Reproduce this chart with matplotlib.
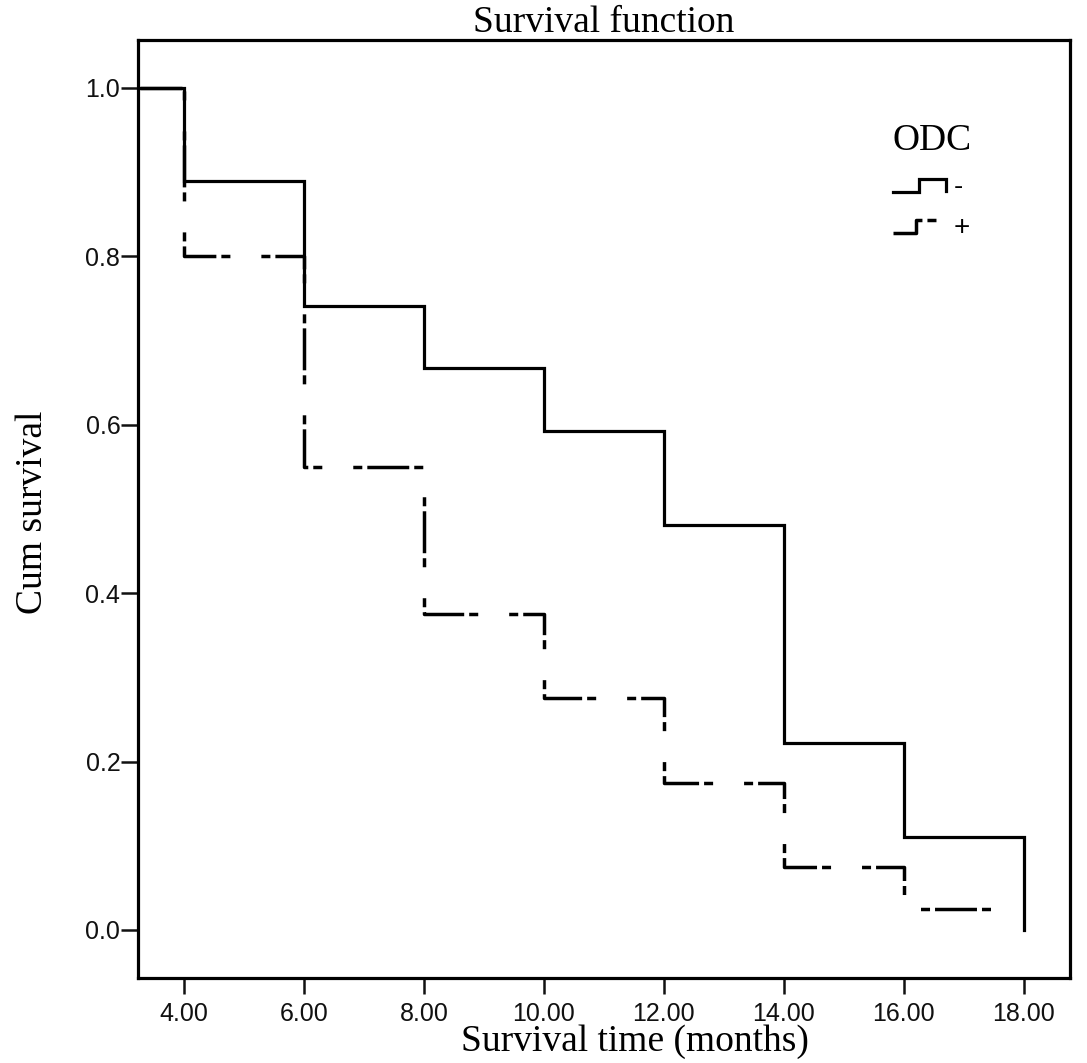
import matplotlib
matplotlib.use("Agg")
import matplotlib.pyplot as plt
import numpy as np
from matplotlib.lines import Line2D
from matplotlib.legend_handler import HandlerBase

# Kaplan-Meier steps (months, cumulative survival)
time_neg = [0, 4, 6, 8, 10, 12, 14, 16, 18]
surv_neg = [1.0, 0.889, 0.741, 0.667, 0.593, 0.481, 0.222, 0.111, 0.0]

time_pos = [0, 4, 6, 8, 10, 12, 14, 16, 17.5]
surv_pos = [1.0, 0.80, 0.55, 0.375, 0.275, 0.175, 0.075, 0.025, 0.025]

group_labels = ["-", "+"]
legend_title = "ODC"

x_ticks = [4, 6, 8, 10, 12, 14, 16, 18]
y_ticks = [0.0, 0.2, 0.4, 0.6, 0.8, 1.0]

plt.rcParams["lines.scale_dashes"] = False
SERIF = ["Liberation Serif", "DejaVu Serif"]
SANS = ["Liberation Sans", "DejaVu Sans"]

# long - short - short dash pattern, in points (period ~101 px)
DASH_SEQ = (30.2, 3.6, 6.5, 22.3, 6.5, 3.6)


class StepHandler(HandlerBase):
    # little step glyph like the SPSS legend
    def __init__(self, drop_end):
        super().__init__()
        self.drop_end = drop_end

    def create_artists(self, legend, orig_handle, xdescent, ydescent,
                       width, height, fontsize, trans):
        if self.drop_end:
            fx = np.array([0, 0.47, 0.47, 0.96, 0.96])
            fy = np.array([0.05, 0.05, 0.8, 0.8, 0.12])
        else:
            fx = np.array([0, 0.42, 0.42, 1.0])
            fy = np.array([0.05, 0.05, 0.8, 0.8])
        line = Line2D(fx * width - xdescent, fy * height - ydescent)
        self.update_prop(line, orig_handle, legend)
        if not self.drop_end:
            line.set_linestyle((0, DASH_SEQ))
        line.set_transform(trans)
        return [line]


fig = plt.figure(figsize=(10.87, 10.63), dpi=100)
ax = fig.add_axes([0.1267, 0.080, 0.8577, 0.8824])

l1, = ax.plot(time_neg, surv_neg, drawstyle="steps-post", color="black",
              lw=2.3, solid_joinstyle="miter")
l2, = ax.plot(time_pos, surv_pos, drawstyle="steps-post", color="black",
              lw=2.5, linestyle=(43.9, DASH_SEQ), dash_capstyle="butt")

ax.set_xlim(3.23, 18.77)
ax.set_ylim(-0.057, 1.057)
ax.set_xticks(x_ticks)
ax.set_xticklabels([f"{v:.2f}" for v in x_ticks])
ax.set_yticks(y_ticks)
ax.set_yticklabels([f"{v:.1f}" for v in y_ticks])

for lab in ax.get_xticklabels() + ax.get_yticklabels():
    lab.set_family(SANS)
    lab.set_fontsize(18)
ax.tick_params(axis="x", length=11.5, width=1.8, pad=6, colors="#111111")
ax.tick_params(axis="y", length=12, width=1.8, pad=0.5, colors="#111111")
for sp in ax.spines.values():
    sp.set_linewidth(2.3)

ax.set_title("Survival function", family=SERIF, fontsize=27, pad=5)
ax.set_xlabel("Survival time (months)", family=SERIF, fontsize=27)
ax.set_ylabel("Cum survival", family=SERIF, fontsize=27)
ax.xaxis.set_label_coords(0.533, -0.050)
ax.yaxis.set_label_coords(-0.094, 0.496)

leg = ax.legend([l1, l2], group_labels,
                handler_map={l1: StepHandler(True), l2: StepHandler(False)},
                title=legend_title, loc="upper left",
                bbox_to_anchor=(0.810, 0.9105), frameon=False,
                borderpad=0, borderaxespad=0, handlelength=2.0,
                handleheight=0.6, handletextpad=0.2, labelspacing=0.55,
                alignment="left",
                prop={"family": SANS, "size": 20},
                title_fontproperties={"family": SERIF, "size": 27})

fig.savefig("out.png", dpi=100)
